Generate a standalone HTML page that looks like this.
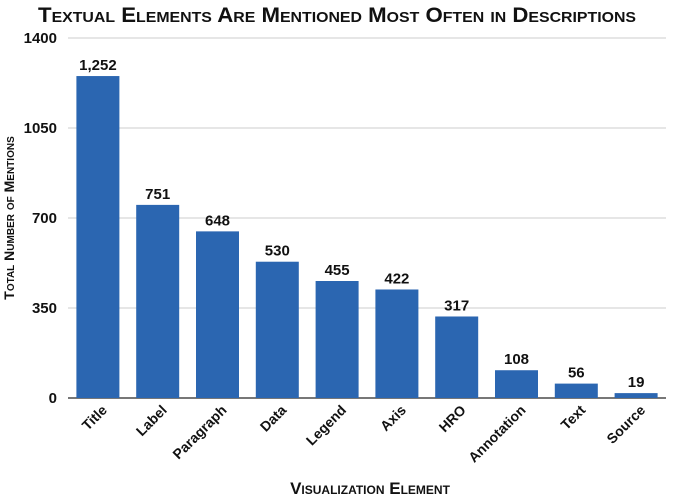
<!DOCTYPE html>
<html><head><meta charset="utf-8"><style>
body{margin:0;background:#fff}
svg text{font-family:"Liberation Sans",Arial,sans-serif;font-weight:bold;fill:#111}
</style></head><body>
<svg width="673" height="496">
<text x="337" y="22" text-anchor="middle" font-size="21" textLength="598" lengthAdjust="spacingAndGlyphs" style="font-variant:small-caps">Textual Elements Are Mentioned Most Often in Descriptions</text>
<text transform="translate(14,218) rotate(-90)" text-anchor="middle" font-size="14" style="font-variant:small-caps">Total Number of Mentions</text>
<text x="370" y="494" text-anchor="middle" font-size="17" style="font-variant:small-caps">Visualization Element</text>
<g id="grid"></g><g id="bars"></g><g id="labels"></g>
</svg>
<script>
const categories=["Title","Label","Paragraph","Data","Legend","Axis","HRO","Annotation","Text","Source"];
const values=[1252,751,648,530,455,422,317,108,56,19];
const valueLabels=["1,252","751","648","530","455","422","317","108","56","19"];
const ticks=[0,350,700,1050,1400];
const ns="http://www.w3.org/2000/svg";
const x0=68,x1=666,y0=398,yTop=38,maxV=1400;
const y=v=>y0-(v/maxV)*(y0-yTop);
const bw=(x1-x0)/categories.length;
const mk=(t,a,p)=>{const e=document.createElementNS(ns,t);for(const k in a)e.setAttribute(k,a[k]);document.getElementById(p).appendChild(e);return e;};
ticks.forEach(t=>{
 const l=mk("line",{x1:x0,x2:x1,y1:y(t),y2:y(t),stroke:t==0?"#777":"#ccc","stroke-width":t==0?2:1},"grid");
 
 
 const tx=mk("text",{x:57,y:y(t)+5,"text-anchor":"end","font-size":15},"grid");
 tx.textContent=t;
 
 
});
categories.forEach((c,i)=>{
 const cx=x0+bw*(i+0.5);
 const r=mk("rect",{x:cx-21.5,y:y(values[i]),width:43,height:y0-y(values[i]),fill:"#2b66b1"},"bars");
 
 
 const v=mk("text",{x:cx,y:y(values[i])-6,"text-anchor":"middle","font-size":15},"labels");
 v.textContent=valueLabels[i];
 
 
 const l=mk("text",{transform:`translate(${cx+10},${y0+13}) rotate(-45)`,"text-anchor":"end","font-size":14},"labels");
 l.textContent=c;
 
 
});
</script>
</body></html>
